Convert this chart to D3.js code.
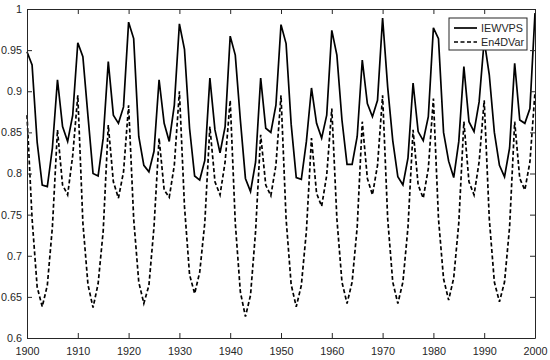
<!DOCTYPE html>
<html>
<head>
<meta charset="utf-8">
<script src="https://cdn.jsdelivr.net/npm/d3@7"></script>
<style>
  body { margin: 0; background: #fff; }
  svg { display: block; }
  text { font-family: "Liberation Sans", Arial, sans-serif; }
</style>
</head>
<body>
<div id="vis"></div>
<script>
const FRAME_WIDTH = 550;
const FRAME_HEIGHT = 360;
const MARGINS = {left: 27, right: 15, top: 9, bottom: 22};
const VIS_WIDTH = FRAME_WIDTH - MARGINS.left - MARGINS.right;
const VIS_HEIGHT = FRAME_HEIGHT - MARGINS.top - MARGINS.bottom;

// one value per year, 1900..2000
const years = d3.range(1900, 2001);

const iewvps = [
  0.948, 0.932, 0.838, 0.786, 0.784, 0.831, 0.914, 0.857, 0.839, 0.871,
  0.959, 0.942, 0.870, 0.800, 0.797, 0.843, 0.936, 0.871, 0.861, 0.881,
  0.984, 0.964, 0.845, 0.810, 0.802, 0.827, 0.914, 0.861, 0.839, 0.883,
  0.982, 0.951, 0.855, 0.797, 0.792, 0.816, 0.916, 0.853, 0.825, 0.857,
  0.967, 0.944, 0.865, 0.794, 0.778, 0.814, 0.916, 0.855, 0.850, 0.883,
  0.981, 0.958, 0.860, 0.795, 0.793, 0.839, 0.904, 0.861, 0.843, 0.871,
  0.974, 0.944, 0.865, 0.811, 0.811, 0.845, 0.938, 0.885, 0.869, 0.889,
  0.989, 0.905, 0.840, 0.796, 0.786, 0.819, 0.910, 0.851, 0.840, 0.869,
  0.977, 0.964, 0.850, 0.815, 0.795, 0.839, 0.930, 0.863, 0.851, 0.887,
  0.962, 0.920, 0.850, 0.810, 0.796, 0.831, 0.934, 0.865, 0.861, 0.879,
  0.995
];

const en4dvar = [
  0.871, 0.745, 0.662, 0.638, 0.664, 0.735, 0.853, 0.786, 0.774, 0.822,
  0.895, 0.740, 0.665, 0.637, 0.666, 0.730, 0.859, 0.790, 0.770, 0.802,
  0.883, 0.745, 0.668, 0.642, 0.664, 0.735, 0.843, 0.780, 0.771, 0.810,
  0.900, 0.760, 0.677, 0.654, 0.680, 0.740, 0.857, 0.790, 0.774, 0.814,
  0.889, 0.740, 0.656, 0.626, 0.652, 0.730, 0.847, 0.786, 0.773, 0.810,
  0.895, 0.745, 0.665, 0.638, 0.664, 0.730, 0.843, 0.776, 0.760, 0.798,
  0.879, 0.745, 0.668, 0.642, 0.668, 0.735, 0.863, 0.794, 0.774, 0.810,
  0.895, 0.745, 0.668, 0.642, 0.668, 0.735, 0.853, 0.786, 0.770, 0.806,
  0.891, 0.745, 0.672, 0.646, 0.673, 0.740, 0.863, 0.790, 0.774, 0.814,
  0.889, 0.745, 0.668, 0.644, 0.668, 0.735, 0.863, 0.794, 0.780, 0.814,
  0.899
];

const xTicks = [1900, 1910, 1920, 1930, 1940, 1950, 1960, 1970, 1980, 1990, 2000];
const yTicks = [0.6, 0.65, 0.7, 0.75, 0.8, 0.85, 0.9, 0.95, 1];
const seriesNames = ["IEWVPS", "En4DVar"];

const AXIS_COLOR = "#262626";

const FRAME = d3.select("#vis")
  .append("svg")
    .attr("width", FRAME_WIDTH)
    .attr("height", FRAME_HEIGHT);

const X_SCALE = d3.scaleLinear().domain([1900, 2000]).range([0, VIS_WIDTH]);
const Y_SCALE = d3.scaleLinear().domain([0.6, 1]).range([VIS_HEIGHT, 0]);

const g = FRAME.append("g")
  .attr("transform", "translate(" + MARGINS.left + "," + MARGINS.top + ")");

// the two lines
const line = (vals) => d3.line()
  .x((d, i) => X_SCALE(years[i]))
  .y(d => Y_SCALE(d))(vals);

g.append("path")
  .attr("d", line(en4dvar))
  .attr("fill", "none")
  .attr("stroke", "#000")
  .attr("stroke-width", 1.7)
  .attr("stroke-dasharray", "4,2.5");

g.append("path")
  .attr("d", line(iewvps))
  .attr("fill", "none")
  .attr("stroke", "#000")
  .attr("stroke-width", 1.7);

// axes, matlab style: ticks inward on all sides
const fmt = d => String(d);

const styleAxis = (sel) => {
  sel.attr("font-size", "10.8px").attr("font-family", "Liberation Sans, Arial, sans-serif");
  sel.select(".domain").attr("stroke", AXIS_COLOR).attr("stroke-width", 1);
  sel.selectAll(".tick line").attr("stroke", AXIS_COLOR);
  sel.selectAll(".tick text").attr("fill", AXIS_COLOR);
};

g.append("g")
  .attr("transform", "translate(0," + VIS_HEIGHT + ")")
  .call(d3.axisBottom(X_SCALE).tickValues(xTicks).tickFormat(fmt).tickSizeInner(-5).tickSizeOuter(0).tickPadding(9))
  .call(styleAxis);

g.append("g")
  .call(d3.axisTop(X_SCALE).tickValues(xTicks).tickFormat("").tickSizeInner(-5).tickSizeOuter(0))
  .call(styleAxis);

g.append("g")
  .call(d3.axisLeft(Y_SCALE).tickValues(yTicks).tickFormat(fmt).tickSizeInner(-5).tickSizeOuter(0).tickPadding(5))
  .call(styleAxis);

g.append("g")
  .attr("transform", "translate(" + VIS_WIDTH + ",0)")
  .call(d3.axisRight(Y_SCALE).tickValues(yTicks).tickFormat("").tickSizeInner(-5).tickSizeOuter(0))
  .call(styleAxis);

// legend
const legend = FRAME.append("g").attr("transform", "translate(449,18)");

legend.append("rect")
  .attr("width", 78)
  .attr("height", 32)
  .attr("fill", "#fff")
  .attr("stroke", AXIS_COLOR)
  .attr("stroke-width", 1);

seriesNames.forEach((name, i) => {
  const y = 10 + i * 14;
  legend.append("line")
    .attr("x1", 5).attr("x2", 28)
    .attr("y1", y).attr("y2", y)
    .attr("stroke", "#000")
    .attr("stroke-width", 1.7)
    .attr("stroke-dasharray", i === 1 ? "4,2.5" : null);
  legend.append("text")
    .attr("x", 32)
    .attr("y", y + 4)
    .attr("font-size", "10.8px")
    .attr("fill", AXIS_COLOR)
    .text(name);
});
</script>
</body>
</html>
